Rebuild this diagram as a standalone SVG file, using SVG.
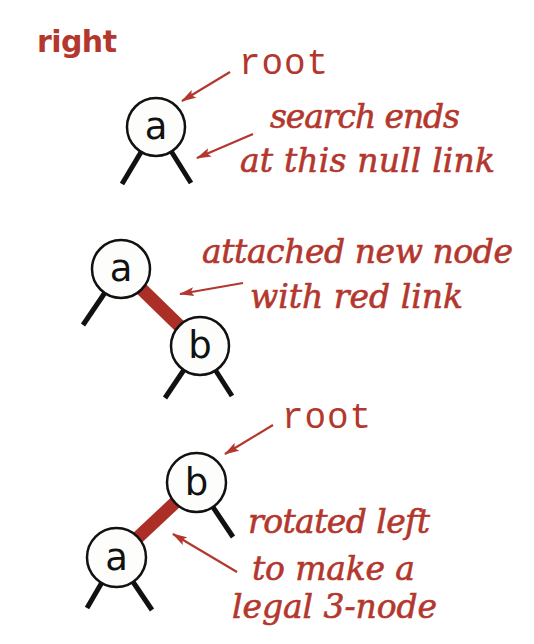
<svg xmlns="http://www.w3.org/2000/svg" width="534" height="644" viewBox="0 0 534 644">
<style>
.lbl{fill:#b3372d;stroke:#b3372d;stroke-width:0.6;font-family:"DejaVu Serif","Liberation Serif",serif;font-style:italic;font-size:33px}
.mono{fill:#b3372d;font-family:"Liberation Mono","DejaVu Sans Mono",monospace;font-size:36px}
.title{fill:#b3372d;font-family:"DejaVu Sans","Liberation Sans",sans-serif;font-weight:bold;font-size:30px}
.node circle{fill:#fdfdfb;stroke:#111;stroke-width:2.5}
.node text{fill:#111;font-family:"DejaVu Sans","Liberation Sans",sans-serif;font-size:37px;text-anchor:middle}
.leg{stroke:#111;stroke-width:5;stroke-linecap:butt}
.red{stroke:#ab2f26;stroke-width:13}
.arr{stroke:#b3372d;stroke-width:2.2;fill:none;marker-end:url(#ah)}
</style>
<defs>
<marker id="ah" markerUnits="userSpaceOnUse" markerWidth="16" markerHeight="10" refX="14" refY="5" orient="auto">
<path d="M0,0.5 L15,5 L0,9.5 L3,5 Z" fill="#b3372d"/>
</marker>
</defs>
<rect width="534" height="644" fill="#fff"/>
<text class="title" x="37" y="52" textLength="80">right</text>
<g id="connectors">
<line class="leg" x1="156" y1="127" x2="122" y2="184"/>
<line class="leg" x1="156" y1="127" x2="191" y2="183"/>
<line class="red" x1="121" y1="269" x2="200" y2="346"/>
<line class="leg" x1="121" y1="269" x2="83" y2="325"/>
<line class="leg" x1="200" y1="346" x2="165" y2="398"/>
<line class="leg" x1="200" y1="346" x2="232" y2="396"/>
<line class="red" x1="196.5" y1="482.5" x2="116.5" y2="557.5"/>
<line class="leg" x1="196.5" y1="482.5" x2="233" y2="537"/>
<line class="leg" x1="116.5" y1="557.5" x2="87" y2="608"/>
<line class="leg" x1="116.5" y1="557.5" x2="152" y2="610"/>
<line class="arr" x1="230" y1="72" x2="182" y2="101"/>
<line class="arr" x1="253" y1="134" x2="197" y2="158"/>
<line class="arr" x1="243" y1="283" x2="180" y2="294"/>
<line class="arr" x1="273" y1="425" x2="225" y2="454"/>
<line class="arr" x1="237" y1="572" x2="173" y2="534"/>
</g>
<g id="node-a1" class="node"><circle cx="156" cy="127" r="29"/><text x="156" y="139">a</text></g>
<g id="node-a2" class="node"><circle cx="121" cy="269" r="29"/><text x="121" y="281">a</text></g>
<g id="node-b2" class="node"><circle cx="200" cy="346" r="29"/><text x="200" y="358">b</text></g>
<g id="node-b3" class="node"><circle cx="196.5" cy="482.5" r="29.5"/><text x="196.5" y="494.5">b</text></g>
<g id="node-a3" class="node"><circle cx="116.5" cy="557.5" r="29.5"/><text x="116.5" y="569.5">a</text></g>
<g id="labels">
<text class="mono" x="239" y="74" textLength="89">root</text>
<text class="lbl" x="270" y="128" textLength="190">search ends</text>
<text class="lbl" x="240" y="172" textLength="255">at this null link</text>
<text class="lbl" x="202" y="263" textLength="311">attached new node</text>
<text class="lbl" x="250" y="308" textLength="213">with red link</text>
<text class="mono" x="282" y="428" textLength="89">root</text>
<text class="lbl" x="248" y="533" textLength="182">rotated left</text>
<text class="lbl" x="252" y="580" textLength="163">to make a</text>
<text class="lbl" x="232" y="618" textLength="205">legal 3-node</text>
</g>
</svg>
